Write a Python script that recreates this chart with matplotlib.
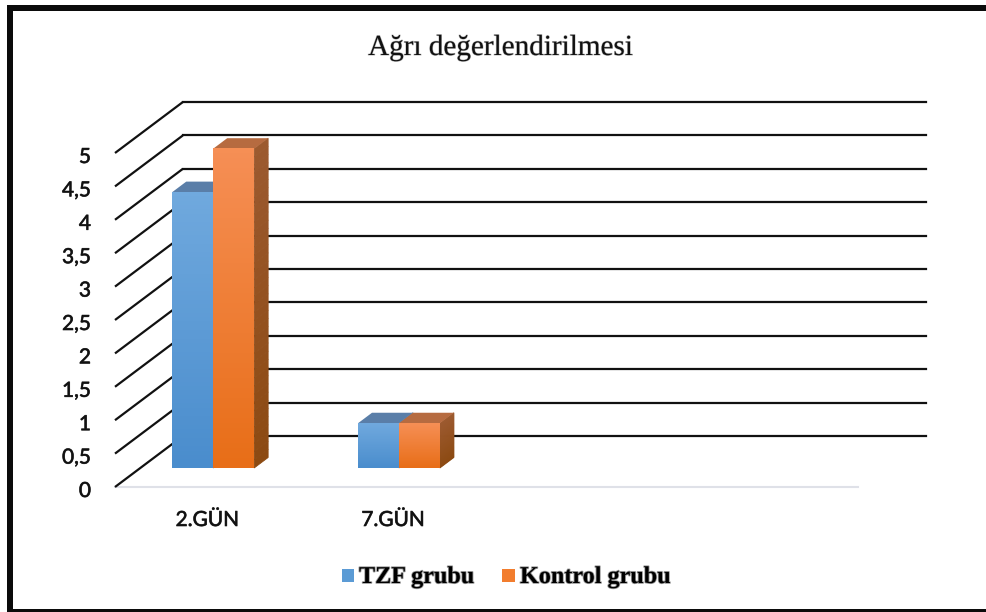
#!/usr/bin/env python
# -*- coding: utf-8 -*-

import matplotlib
matplotlib.use('Agg')
import matplotlib.pyplot as plt
import matplotlib.patheffects as pe
import numpy as np
from matplotlib.patches import Polygon, Rectangle

W, H = 986, 612

title = 'Ağrı değerlendirilmesi'
days = ['2.GÜN', '7.GÜN']
tick_values = [0, 0.5, 1, 1.5, 2, 2.5, 3, 3.5, 4, 4.5, 5]
tick_labels = ['0', '0,5', '1', '1,5', '2', '2,5', '3', '3,5', '4', '4,5', '5']
tzf = [4.13, 0.67]
kontrol = [4.78, 0.67]
names = ['TZF grubu', 'Kontrol grubu']

# shear of the fake 3d wall, in data units
WALL_X = 68 / 186
WALL_Y = 51 / 66.8
BAR_FRONT = 19 / 51
BAR_BACK = 29.5 / 51
BAR_W = 41 / 186
X_START = (115 - 188) / 186
LINE = '#111111'

fig = plt.figure(figsize=(W / 100, H / 100), dpi=100, facecolor='white')
ax = fig.add_axes([115 / W, 1 - 487 / H, 743 / W, 334 / H])
ax.axis('off')


def proj(x, y, d):
    return (x + WALL_X * d, y + WALL_Y * d)


def gradient(x0, x1, y0, y1, top, bottom, z):
    c0 = np.array(matplotlib.colors.to_rgb(top))
    c1 = np.array(matplotlib.colors.to_rgb(bottom))
    t = np.linspace(0, 1, 64)[:, None, None]
    img = c0 + (c1 - c0) * t
    ax.imshow(img, extent=(x0, x1, y0, y1), aspect='auto', zorder=z, clip_on=False)


def bar(x, val, front_top, front_bottom, side_top, side_bottom, top_col, z):
    x0, y0 = proj(x, 0, BAR_FRONT)
    x1, y1 = proj(x + BAR_W, val, BAR_FRONT)
    bx0, by1 = proj(x, val, BAR_BACK)
    bx1, by0 = proj(x + BAR_W, 0, BAR_BACK)
    # side, split in strips for the gradient
    n = 40
    ys = np.linspace(y0, y1, n)
    cb = np.array(matplotlib.colors.to_rgb(side_bottom))
    ct = np.array(matplotlib.colors.to_rgb(side_top))
    for i in range(n - 1):
        col = cb + (ct - cb) * i / (n - 1)
        ax.add_patch(Polygon([(x1, ys[i]), (bx1, ys[i] + by0 - y0),
                              (bx1, ys[i + 1] + by0 - y0), (x1, ys[i + 1])],
                             closed=True, facecolor=col, edgecolor=col, lw=0.6,
                             zorder=z + 0.01, clip_on=False))
    # top
    ax.add_patch(Polygon([(x0, y1), (x1, y1), (bx1, by1), (bx0, by1)], closed=True,
                         facecolor=top_col, edgecolor='none', zorder=z + 0.015, clip_on=False))
    # front
    gradient(x0, x1, y0, y1, front_top, front_bottom, z + 0.02)


def main():
    # wall grid lines
    for v in tick_values:
        back = proj(X_START, v, 1)
        right = proj(X_START + 4, v, 1)
        ax.plot([X_START, back[0]], [v, back[1]], color=LINE, lw=1.6,
                clip_on=False, zorder=1, solid_capstyle='butt')
        ax.plot([back[0], right[0]], [back[1], right[1]], color=LINE, lw=1.6,
                clip_on=False, zorder=1)

    # floor line
    ax.plot([X_START, X_START + 4], [0, 0], color='#dfe1e8', lw=1.5, clip_on=False, zorder=0.5)

    heavy = [pe.withStroke(linewidth=0.5, foreground='#333333')]
    for i in range(len(days)):
        bar(i - BAR_W, tzf[i], '#70a9de', '#4a8dcd', '#5a7ea8', '#5a7ea8', '#5a7ea8', 2)
        bar(i, kontrol[i], '#f68f55', '#e86e18', '#9c5a30', '#8c4a12', '#b66b40', 3)
        ax.text(i + 0.105, -39 / 66.8, days[i], ha='center', va='baseline', fontsize=15,
                family='Lato', color='#111111', path_effects=heavy)

    for v, lab in zip(tick_values, tick_labels):
        ax.text(X_START - 24 / 186, v - 10 / 66.8, lab, ha='right', va='baseline', fontsize=15,
                family='Lato', color='#111111', path_effects=heavy)

    ax.set_xlim(X_START, X_START + 4)
    ax.set_ylim(0, 5)

    # frame, title and legend live in figure space
    soft = [pe.withStroke(linewidth=0.8, foreground='#bbbbbb')]
    fig.text(500 / W, 1 - 55 / H, title, ha='center', va='baseline', fontsize=21,
             family='Liberation Serif', color='#111111', path_effects=soft)

    shadow = [pe.withStroke(linewidth=1.2, foreground='#999999')]
    base_y = 1 - 583 / H
    box_y = 1 - 582 / H
    fig.patches.append(Rectangle((342 / W, box_y), 12 / W, 13 / H, facecolor='#5b9bd5',
                                 transform=fig.transFigure))
    fig.text(359 / W, base_y, names[0], ha='left', va='baseline', fontsize=17.4, fontweight='bold',
             family='Liberation Serif', color='black', path_effects=shadow)
    fig.patches.append(Rectangle((502 / W, box_y), 13 / W, 13 / H, facecolor='#f27d2e',
                                 transform=fig.transFigure))
    fig.text(520 / W, base_y, names[1], ha='left', va='baseline', fontsize=17.4, fontweight='bold',
             family='Liberation Serif', color='black', path_effects=shadow)

    # thick black frame, open on the right
    for box in [(7 / W, 1 - 11 / H, 1, 6 / H), (7 / W, 0, 1, 3 / H), (7 / W, 0, 5.5 / W, 1 - 5 / H)]:
        fig.patches.append(Rectangle(box[:2], box[2], box[3], facecolor='#0b0b0b',
                                     edgecolor='none', transform=fig.transFigure))

    plt.savefig('out.png', dpi=100)
    plt.close()


if __name__ == '__main__':
    main()
